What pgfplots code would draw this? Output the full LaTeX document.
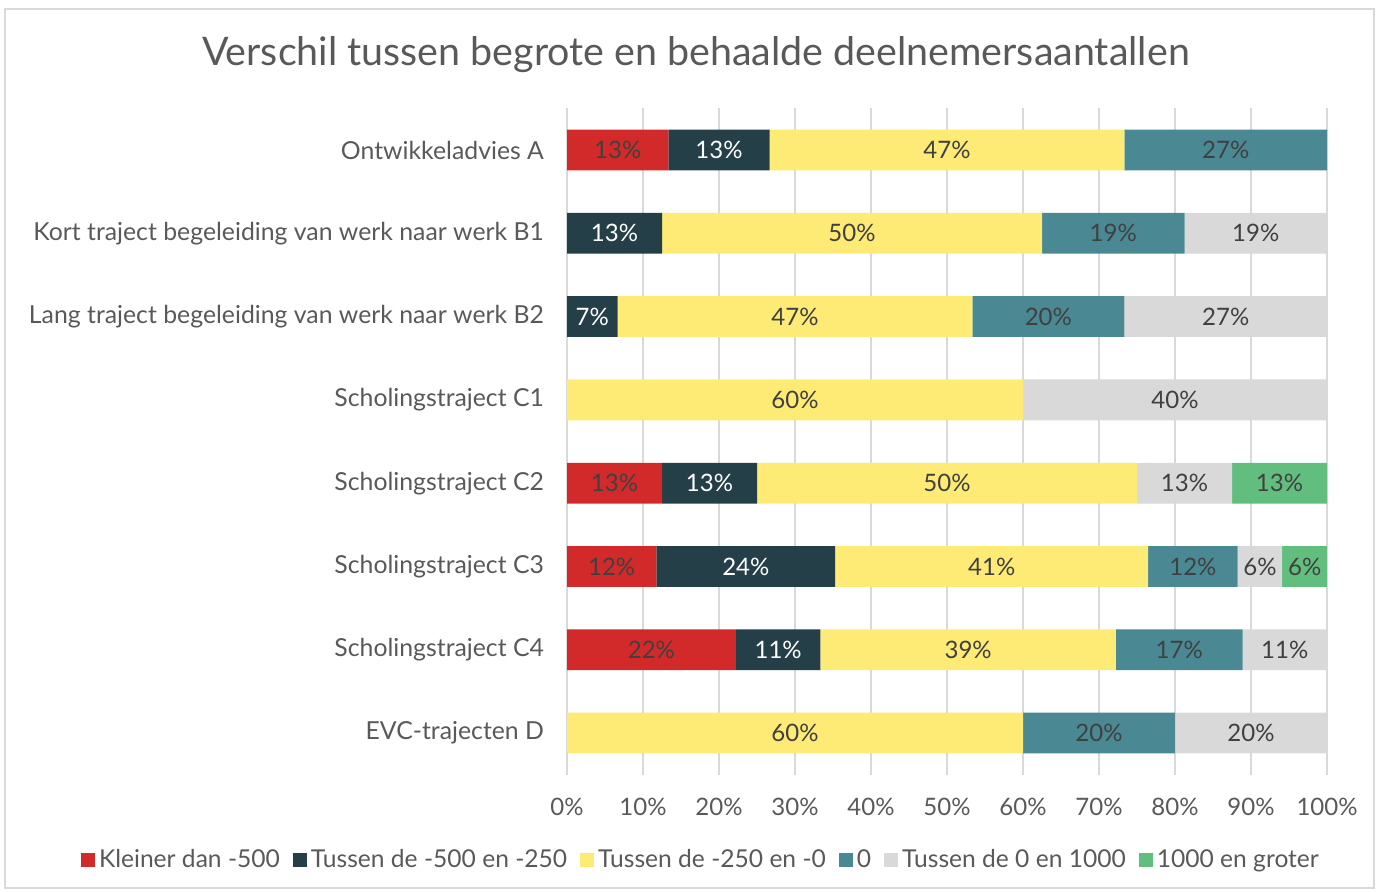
\documentclass[border=0pt]{standalone}
\usepackage{pgfplots}
\pgfplotsset{compat=1.18}
\usepackage{fontspec}
\setmainfont{Lato}
\definecolor{cRed}{HTML}{D22A2A}
\definecolor{cDark}{HTML}{243F47}
\definecolor{cYel}{HTML}{FDEB75}
\definecolor{cTeal}{HTML}{4A8894}
\definecolor{cGrey}{HTML}{D9D9D9}
\definecolor{cGreen}{HTML}{62BE7F}
\definecolor{cText}{HTML}{595959}
\definecolor{cLab}{HTML}{404040}
\definecolor{cGrid}{HTML}{D9D9D9}
\pgfplotsset{
  mybar/.style={fill=#1, draw=none,
    legend image code/.code={\fill[fill=#1] (0pt,-3.5pt) rectangle (7pt,3.5pt);}},
  lab/.style={only marks, mark=*, mark size=0pt, mark options={draw=none,fill=none},
    point meta=explicit symbolic, nodes near coords,
    nodes near coords style={anchor=center, text=#1, font=\fontsize{12}{14}\selectfont}},
}
\begin{document}
\begin{tikzpicture}[x=1pt,y=1pt]
\useasboundingbox (0,0) rectangle (688,445.5);
\draw[color=cGrid, line width=0.6pt] (2.5,1.5) rectangle (687,441);
\node[font=\fontsize{19.7}{23}\selectfont, text=cText] at (348,418) {Verschil tussen begrote en behaalde deelnemersaantallen};
\begin{axis}[
  at={(283.5pt,58.15pt)}, anchor=south west,
  width=380pt, height=333.2pt, scale only axis,
  xbar stacked, bar width=0.49,
  xmin=0, xmax=100, ymin=-0.5, ymax=7.5, y dir=reverse,
  axis line style={draw=none},
  xmajorgrids, grid style={cGrid, line width=1pt},
  major tick length=0,
  xtick={0,10,...,100},
  xticklabels={0\%,10\%,20\%,30\%,40\%,50\%,60\%,70\%,80\%,90\%,100\%},
  ytick={0,...,7},
  yticklabels={Ontwikkeladvies A, Kort traject begeleiding van werk naar werk B1, Lang traject begeleiding van werk naar werk B2, Scholingstraject C1, Scholingstraject C2, Scholingstraject C3, Scholingstraject C4, EVC-trajecten D},
  tick label style={text=cText, font=\fontsize{12}{14}\selectfont},
  yticklabel style={xshift=-8pt, font=\fontsize{12.4}{14}\selectfont},
  xticklabel style={yshift=-8pt},
  legend columns=6,
  legend style={at={(0.1776,-0.128)}, anchor=center, draw=none, fill=none,
    font=\fontsize{12.3}{14}\selectfont, text=cText,
    /tikz/every even column/.append style={column sep=4.5pt},
    nodes={inner xsep=2pt}},
  legend cell align=left,
]
\addplot[mybar=cRed] coordinates {(13.33,0) (0,1) (0,2) (0,3) (12.5,4) (11.76,5) (22.22,6) (0,7)};
\addplot[mybar=cDark] coordinates {(13.33,0) (12.5,1) (6.67,2) (0,3) (12.5,4) (23.53,5) (11.11,6) (0,7)};
\addplot[mybar=cYel] coordinates {(46.67,0) (50,1) (46.67,2) (60,3) (50,4) (41.18,5) (38.89,6) (60,7)};
\addplot[mybar=cTeal] coordinates {(26.67,0) (18.75,1) (20,2) (0,3) (0,4) (11.76,5) (16.67,6) (20,7)};
\addplot[mybar=cGrey] coordinates {(0,0) (18.75,1) (26.67,2) (40,3) (12.5,4) (5.88,5) (11.11,6) (20,7)};
\addplot[mybar=cGreen] coordinates {(0,0) (0,1) (0,2) (0,3) (12.5,4) (5.88,5) (0,6) (0,7)};
\legend{Kleiner dan -500, Tussen de -500 en -250, Tussen de -250 en -0, 0, Tussen de 0 en 1000, 1000 en groter}
\end{axis}
\begin{axis}[
  at={(283.5pt,58.15pt)}, anchor=south west,
  width=380pt, height=333.2pt, scale only axis,
  xmin=0, xmax=100, ymin=-0.5, ymax=7.5, y dir=reverse,
  hide axis, clip=false,
]
\addplot[lab=cLab] coordinates {
 (6.67,0) [13\%] (50,0) [47\%] (86.67,0) [27\%]
 (37.5,1) [50\%] (71.875,1) [19\%] (90.625,1) [19\%]
 (30,2) [47\%] (63.33,2) [20\%] (86.67,2) [27\%]
 (30,3) [60\%] (80,3) [40\%]
 (6.25,4) [13\%] (50,4) [50\%] (81.25,4) [13\%] (93.75,4) [13\%]
 (5.88,5) [12\%] (55.88,5) [41\%] (82.35,5) [12\%] (91.18,5) [6\%] (97.06,5) [6\%]
 (11.11,6) [22\%] (52.78,6) [39\%] (80.56,6) [17\%] (94.44,6) [11\%]
 (30,7) [60\%] (70,7) [20\%] (90,7) [20\%]
};
\addplot[lab=white] coordinates {
 (20,0) [13\%] (6.25,1) [13\%] (3.33,2) [7\%] (18.75,4) [13\%] (23.53,5) [24\%] (27.78,6) [11\%]
};
\end{axis}
\end{tikzpicture}
\end{document}
